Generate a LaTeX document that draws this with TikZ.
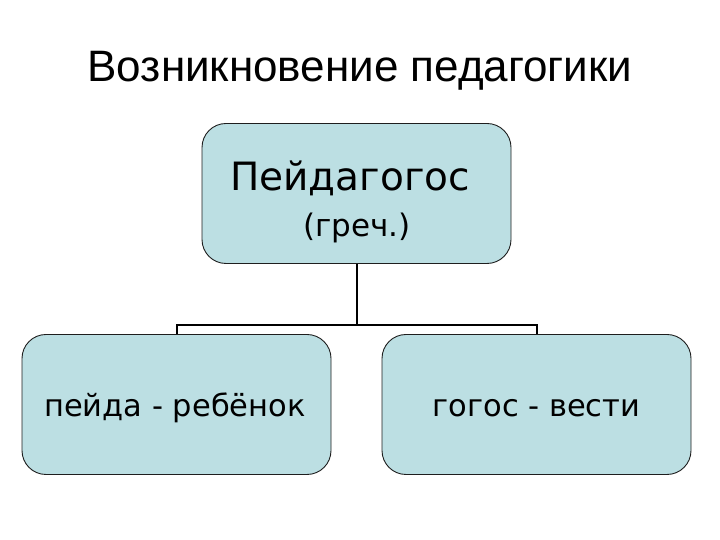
\documentclass[tikz,border=0pt]{standalone}
\usepackage{fontspec}
\setmainfont{Liberation Sans}
\newfontfamily\boxfont{DejaVu Sans}
\definecolor{boxfill}{RGB}{188,223,227}
\definecolor{boxline}{RGB}{30,30,30}
\tikzset{
  box/.style={draw=boxline, line width=0.9pt, fill=boxfill, rounded corners=24pt, minimum width=309pt, minimum height=140pt, inner sep=0pt},
  conn/.style={draw=black, line width=2pt},
  txt/.style={inner sep=0pt, font=\boxfont}
}
\begin{document}
\begin{tikzpicture}[x=1pt,y=1pt]
\useasboundingbox (0,0) rectangle (720,540);
\node[inner sep=0pt, font=\fontsize{44}{48}\selectfont] (title) at (360,469) {Возникновение педагогики};
\node[box] (top) at (356.5,346.5) {};
\node[box] (left) at (176.5,135.5) {};
\node[box] (right) at (536.5,135.5) {};
\node[txt, font=\boxfont\fontsize{39}{42}\selectfont] (t1) at (350,362) {Пейдагогос};
\node[txt, font=\boxfont\fontsize{31}{34}\selectfont] (t2) at (357,312) {(греч.)};
\node[txt, font=\boxfont\fontsize{30.5}{34}\selectfont] (lt) at (175,132) {пейда - ребёнок};
\node[txt, font=\boxfont\fontsize{30.5}{34}\selectfont] (rt) at (536.5,132) {гогос - вести};
\coordinate (mid) at (356.5,215);
\draw[conn] (top.south) -- (mid);
\draw[conn] (left.north) -- (left.north |- mid) -- (right.north |- mid) -- (right.north);
\end{tikzpicture}
\end{document}
